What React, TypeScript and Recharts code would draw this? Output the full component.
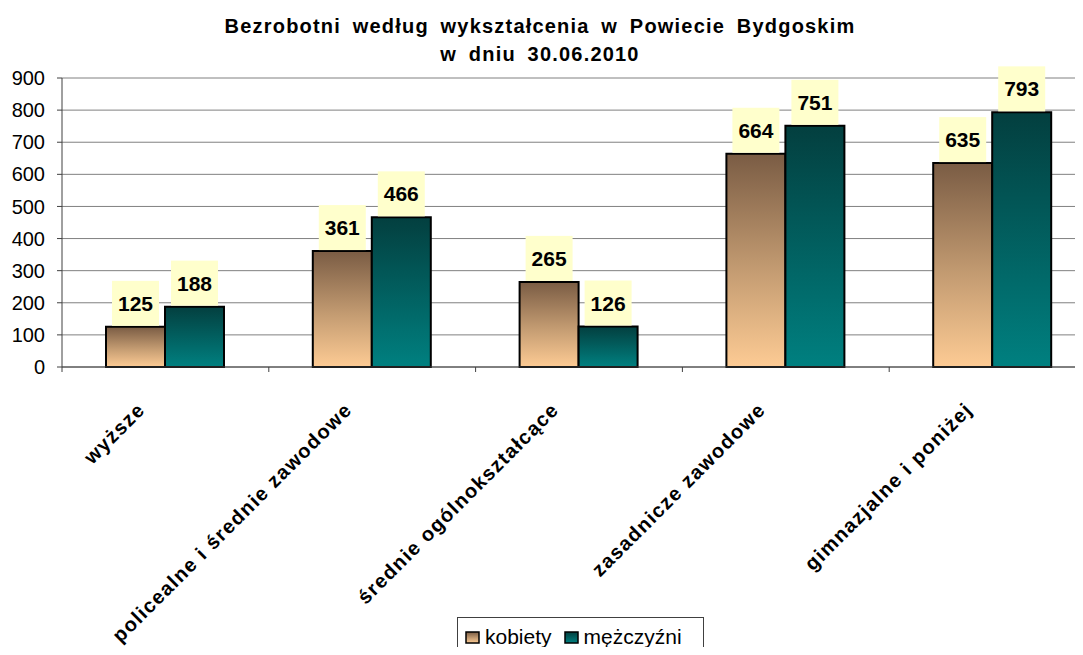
import React from "react";
import { BarChart, Bar, XAxis, YAxis, CartesianGrid, LabelList } from "recharts";

const categories = [
  "wyższe",
  "policealne i średnie zawodowe",
  "średnie ogólnokształcące",
  "zasadnicze zawodowe",
  "gimnazjalne i poniżej",
];
const kobiety = [125, 361, 265, 664, 635];
const mezczyzni = [188, 466, 126, 751, 793];
const yTicks = [0, 100, 200, 300, 400, 500, 600, 700, 800, 900];

const data = categories.map((name, i) => ({
  name,
  kobiety: kobiety[i],
  mezczyzni: mezczyzni[i],
}));

const FONT = '"Liberation Sans", Arial, sans-serif';

// yellow box with the value, sitting on top of each bar
const ValueBox = (props: any) => {
  const { x, y, width, value } = props;
  const cx = x + width / 2;
  const bw = 47;
  const bh = 45;
  return (
    <g>
      <rect x={cx - bw / 2} y={y - bh - 1} width={bw} height={bh} fill="#FFFFCC" />
      <text
        x={cx}
        y={y - bh / 2 - 1}
        dy="0.36em"
        textAnchor="middle"
        fontFamily={FONT}
        fontWeight="bold"
        fontSize={21}
        fill="#000"
      >
        {value}
      </text>
    </g>
  );
};

// rotated category label + tick mark on the category boundary
const CategoryTick = (props: any) => {
  const { x, y, payload } = props;
  const half = payload.offset || 0;
  const ax = x - 19;
  const ay = y + 39;
  return (
    <g>
      <line x1={x - half} x2={x - half} y1={y - 5} y2={y} stroke="#404040" />
      <text
        x={ax}
        y={ay}
        transform={`rotate(-45, ${ax}, ${ay})`}
        textAnchor="end"
        fontFamily={FONT}
        fontWeight="bold"
        fontSize={20}
        letterSpacing={1.3}
        fill="#000"
      >
        {payload.value}
      </text>
    </g>
  );
};

const LegendSwatch = ({ id }: { id: string }) => (
  <svg width={15} height={13} style={{ marginRight: 5 }}>
    <rect x={1} y={1} width={13} height={11} fill={`url(#${id})`} stroke="#000" strokeWidth={1.5} />
  </svg>
);

export default function App() {
  return (
    <div
      style={{
        position: "relative",
        width: 1083,
        height: 655,
        margin: -8,
        overflow: "hidden",
        background: "#fff",
        fontFamily: FONT,
      }}
    >
      <svg width={0} height={0} style={{ position: "absolute" }}>
        <defs>
          <linearGradient id="legK" x1="0" y1="0" x2="0" y2="1">
            <stop offset="0%" stopColor="#7a5c44" />
            <stop offset="55%" stopColor="#c49c72" />
            <stop offset="100%" stopColor="#fdcb94" />
          </linearGradient>
          <linearGradient id="legM" x1="0" y1="0" x2="0" y2="1">
            <stop offset="0%" stopColor="#033f3f" />
            <stop offset="100%" stopColor="#008080" />
          </linearGradient>
        </defs>
      </svg>
      <div
        style={{
          position: "absolute",
          left: 0,
          top: 12,
          width: 1080,
          textAlign: "center",
          fontWeight: "bold",
          fontSize: 20,
          lineHeight: "28px",
          letterSpacing: 1.2,
          wordSpacing: 5,
          color: "#000",
        }}
      >
        Bezrobotni według wykształcenia w Powiecie Bydgoskim
        <br />
        w dniu 30.06.2010
      </div>
      <BarChart
        width={1100}
        height={655}
        data={data}
        margin={{ top: 78, right: 4, bottom: 0, left: 0 }}
        barGap={0}
        barSize={59}
      >
        <defs>
          <linearGradient id="gradK" x1="0" y1="0" x2="0" y2="1">
            <stop offset="0%" stopColor="#7a5c44" />
            <stop offset="55%" stopColor="#c49c72" />
            <stop offset="100%" stopColor="#fdcb94" />
          </linearGradient>
          <linearGradient id="gradM" x1="0" y1="0" x2="0" y2="1">
            <stop offset="0%" stopColor="#033f3f" />
            <stop offset="100%" stopColor="#008080" />
          </linearGradient>
        </defs>
        <CartesianGrid vertical={false} stroke="#808080" />
        <XAxis
          dataKey="name"
          height={288}
          interval={0}
          tickLine={false}
          tickSize={5}
          tickMargin={0}
          stroke="#404040"
          tick={<CategoryTick />}
        />
        <YAxis
          width={62}
          domain={[0, 900]}
          ticks={yTicks}
          interval={0}
          tickSize={5}
          tickMargin={12}
          stroke="#404040"
          tick={{ fill: "#000", fontSize: 20, fontFamily: FONT }}
        />
        <Bar dataKey="kobiety" fill="url(#gradK)" stroke="#000" strokeWidth={2} isAnimationActive={false}>
          <LabelList dataKey="kobiety" content={<ValueBox />} />
        </Bar>
        <Bar dataKey="mezczyzni" fill="url(#gradM)" stroke="#000" strokeWidth={2} isAnimationActive={false}>
          <LabelList dataKey="mezczyzni" content={<ValueBox />} />
        </Bar>
      </BarChart>
      <div
        style={{
          position: "absolute",
          left: 457,
          top: 617,
          width: 247,
          height: 50,
          border: "1px solid #404040",
          boxSizing: "border-box",
          display: "flex",
          alignItems: "flex-start",
          paddingTop: 7,
          paddingLeft: 7,
          fontSize: 21,
          lineHeight: "24px",
          color: "#000",
        }}
      >
        <span style={{ display: "flex", alignItems: "center" }}>
          <LegendSwatch id="legK" />
          kobiety
        </span>
        <span style={{ display: "flex", alignItems: "center", marginLeft: 12 }}>
          <LegendSwatch id="legM" />
          mężczyźni
        </span>
      </div>
    </div>
  );
}
